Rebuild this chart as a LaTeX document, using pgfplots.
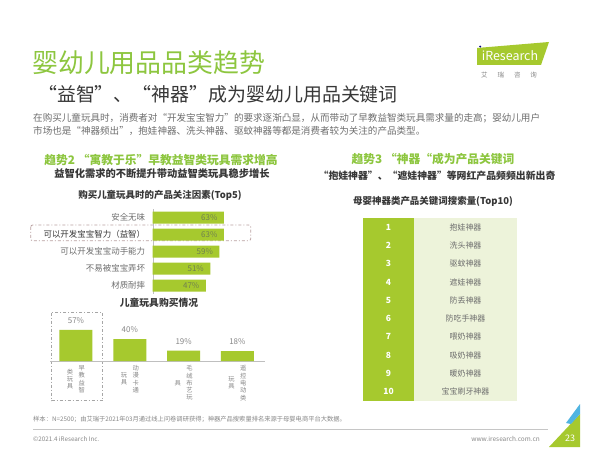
\documentclass[border=0pt]{standalone}
\usepackage{pgfplots}
\pgfplotsset{compat=1.18}
\usepackage{fontspec}
\setmainfont{Noto Sans CJK SC}
\definecolor{tgreen}{RGB}{141,198,63}
\definecolor{bgreen}{RGB}{166,201,46}
\definecolor{lgreen}{RGB}{237,243,218}
\definecolor{dtext}{RGB}{55,55,55}
\definecolor{gtext}{RGB}{110,110,110}
\definecolor{ltext}{RGB}{135,135,135}
\definecolor{ptext}{RGB}{112,128,80}
\definecolor{dbox}{RGB}{185,160,160}
\definecolor{sky}{RGB}{80,180,225}
\newcommand{\fs}[1]{\fontsize{#1}{#1}\selectfont}
\newcommand{\vlab}[2]{\begin{tabular}{@{}c@{\hspace{5.5bp}}c@{}}\begin{tabular}{@{}c@{}}#2\end{tabular}&\begin{tabular}{@{}c@{}}#1\end{tabular}\end{tabular}}
\begin{document}
\begin{tikzpicture}[x=1bp,y=-1bp]
\fill[white] (0,0) rectangle (600,457);
\useasboundingbox (0,0) rectangle (600,457);
% titles
\node[anchor=west,inner sep=0,text=tgreen,font=\fs{26}] at (32,62.5) {婴幼儿用品品类趋势};
\node[anchor=west,inner sep=0,text=dtext,font=\fs{19}] at (38,94) {“益智”、“神器”成为婴幼儿用品关键词};
\node[anchor=west,inner sep=0,text=gtext,font=\fs{9.6}] at (33,118) {在购买儿童玩具时，消费者对“开发宝宝智力”的要求逐渐凸显，从而带动了早教益智类玩具需求量的走高；婴幼儿用户};
\node[anchor=west,inner sep=0,text=gtext,font=\fs{9.6}] at (33,130.5) {市场也是“神器频出”，抱娃神器、洗头神器、驱蚊神器等都是消费者较为关注的产品类型。};
% logo
\fill[bgreen] (477,48) -- (549,42) -- (541,65) -- (477,65) -- cycle;
\node[inner sep=0,text=white,font=\fs{12.5}] at (510,55.5) {iResearch};
\fill[blue!50!black] (480.2,46.6) circle (1.1);
\node[inner sep=0,text=ltext,font=\fs{6.5}] at (509,75) {艾\hspace{10bp}瑞\hspace{10bp}咨\hspace{10bp}询};
% left headings
\node[inner sep=0,text=tgreen,font=\bfseries\fs{11.8}] at (161,160) {趋势2 “寓教于乐”早教益智类玩具需求增高};
\node[inner sep=0,text=dtext,font=\bfseries\fs{10.3}] at (162,174) {益智化需求的不断提升带动益智类玩具稳步增长};
\node[inner sep=0,text=dtext,font=\bfseries\fs{9.5}] at (160,195.5) {购买儿童玩具时的产品关注因素(Top5)};
\node[inner sep=0,text=dtext,font=\bfseries\fs{9.8}] at (159,303) {儿童玩具购买情况};
% right headings
\node[inner sep=0,text=tgreen,font=\bfseries\fs{11.8}] at (433,159.5) {趋势3 “神器“成为产品关键词};
\node[inner sep=0,text=dtext,font=\bfseries\fs{9.9}] at (437,176) {“抱娃神器”、“遮娃神器”等网红产品频频出新出奇};
\node[inner sep=0,text=dtext,font=\bfseries\fs{9.5}] at (433,201.5) {母婴神器类产品关键词搜索量(Top10)};
% dashed boxes
\draw[dbox,line width=0.8bp,dash pattern=on 3bp off 2bp on 1bp off 2bp,rounded corners=2bp] (30.7,225) rectangle (250.7,240.7);
\draw[gray!70,line width=0.8bp,dash pattern=on 3bp off 2bp on 1bp off 2bp] (51.7,312.5) rectangle (102.7,400.7);
% horizontal bar chart
\begin{axis}[at={(152.7bp,-209.2bp)},anchor=north west,scale only axis,
  width=113bp,height=85bp,xmin=0,xmax=100,ymin=0.5,ymax=5.5,y dir=reverse,
  xbar,bar width=12bp,axis y line*=left,axis x line=none,
  y axis line style={-,gray!50},
  /pgf/number format/assume math mode=true,
  ytick={1,2,3,4,5},
  yticklabels={安全无味,\textcolor{dtext}{可以开发宝宝智力（益智）},可以开发宝宝动手能力,不易被宝宝弄坏,材质耐摔},
  yticklabel style={font=\fs{8.5},text=gtext,xshift=-4bp},
  major tick length=0,clip=false]
\addplot[fill=bgreen,draw=none,point meta=x,
  nodes near coords={\pgfmathprintnumber{\pgfplotspointmeta}\%},
  nodes near coords style={anchor=east,font=\fs{8},text=ptext,xshift=-3bp}]
  coordinates {(63,1) (63,2) (59,3) (51,4) (47,5)};
\end{axis}
% vertical bar chart
\begin{axis}[at={(50bp,-361bp)},anchor=south west,scale only axis,
  width=215bp,height=32.7bp,xmin=0.517,xmax=4.513,ymin=0,ymax=60,
  ybar,bar width=33bp,axis x line=bottom,axis y line=none,
  x axis line style={-,gray!50},
  /pgf/number format/assume math mode=true,
  xtick={1,2,3,4},
  xticklabels={\vlab{早\\教\\益\\智}{类\\玩\\具},\vlab{动\\漫\\卡\\通}{玩\\具},\vlab{毛\\绒\\布\\艺\\玩}{具},\vlab{遥\\控\\电\\动\\类}{玩\\具}},
  xticklabel style={font=\fontsize{6.3}{7}\selectfont,text=ltext,anchor=north,yshift=-1bp},
  major tick length=0,clip=false]
\addplot[fill=bgreen,draw=none,
  nodes near coords={\pgfmathprintnumber{\pgfplotspointmeta}\%},
  nodes near coords style={font=\fs{8},text=ltext,yshift=3bp}]
  coordinates {(1,57) (2,40) (3,19) (4,18)};
\end{axis}
% table
\fill[bgreen] (363,218.3) rectangle (414,400.7);
\fill[lgreen] (414,218.3) rectangle (517,400.7);
\foreach \i/\w in {1/抱娃神器,2/洗头神器,3/驱蚊神器,4/遮娃神器,5/防丢神器,6/防吃手神器,7/喂奶神器,8/吸奶神器,9/暖奶神器,10/宝宝刷牙神器}{
  \node[inner sep=0,text=white,font=\bfseries\fs{8.5}] at (388.5,{218.3+18.24*(\i-0.5)}) {\i};
  \node[inner sep=0,text=gtext,font=\fs{8}] at (465.5,{218.3+18.24*(\i-0.5)}) {\w};
}
% footer
\node[anchor=west,inner sep=0,text=ltext,font=\fs{6.3}] at (33,419) {样本：N=2500；由艾瑞于2021年03月通过线上问卷调研获得；神器产品搜索量排名来源于母婴电商平台大数据。};
\draw[gray!45,line width=0.7bp] (33,429) -- (548,429);
\node[anchor=west,inner sep=0,text=ltext,font=\fs{6.3}] at (33,439) {©2021.4 iResearch Inc.};
\node[anchor=east,inner sep=0,text=ltext,font=\fs{6.5}] at (540,439) {www.iresearch.com.cn};
\fill[bgreen] (549,447) -- (580,447) -- (580,414) -- cycle;
\fill[sky] (566,423) -- (580,404) -- (580,414) -- (571,424) -- cycle;
\node[inner sep=0,text=white,font=\fs{9}] at (570,438) {23};
\end{tikzpicture}
\end{document}
